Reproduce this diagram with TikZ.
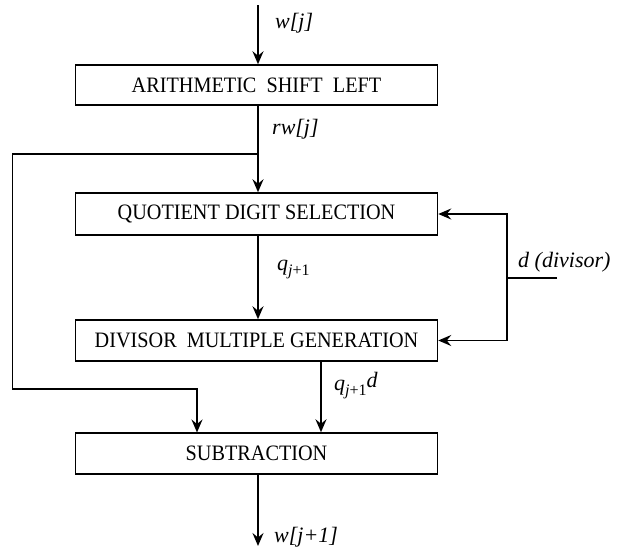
\documentclass[tikz,border=0pt]{standalone}
\usepackage{fontspec}
\setmainfont[FakeStretch=0.92]{Liberation Serif}
\newfontfamily\lblfont{Liberation Serif}
\usetikzlibrary{arrows.meta}
\newcommand{\qsub}{\raisebox{-5pt}{\fontsize{16}{16}\selectfont j\upshape+1}}
\tikzset{
  blk/.style={draw, line width=1.5pt, minimum width=362pt, minimum height=41pt, inner sep=0pt,
    font=\fontsize{22}{26}\selectfont},
  arr/.style={line width=1.8pt, -{Stealth[length=13pt,width=11pt,inset=4.5pt]}},
  ln/.style={line width=1.8pt},
  lbl/.style={anchor=west, inner sep=0pt, font=\lblfont\itshape\fontsize{22}{26}\selectfont}
}
\begin{document}
\begin{tikzpicture}[x=1pt,y=-1pt]
\useasboundingbox (0,0) rectangle (620,554);
\node[blk, minimum height=40pt] (b1) at (256.5,85) {ARITHMETIC~ SHIFT~ LEFT};
\node[blk, minimum height=42pt] (b2) at (256.5,214) {QUOTIENT DIGIT SELECTION};
\node[blk] (b3) at (256.5,340.5) {DIVISOR~ MULTIPLE GENERATION};
\node[blk] (b4) at (256.5,453.5) {SUBTRACTION};
\coordinate (top) at (258,5);
\coordinate (split) at (258,154);
\coordinate (bot) at (258,546);
\coordinate (dend) at (557,278);
\coordinate (dj) at (507,278);
\coordinate (lb) at (12.5,389);
\coordinate (lt) at (12.5,154);
\draw[arr] (top) -- (top |- b1.north);
\draw[arr] (b1.south -| top) -- (b2.north -| top);
\draw[arr] (split) -- (lt) -- (lb) -- ++(184.5,0) -- ++(0,43.5);
\draw[arr] (b2.south -| top) -- (b3.north -| top);
\draw[arr] (321,0 |- b3.south) -- (321,0 |- b4.north);
\draw[arr] (b4.south -| top) -- (bot);
\draw[ln] (dend) -- (dj);
\draw[arr] (dj) |- (b2.east);
\draw[arr] (dj) |- (b3.east);
\node[lbl] (lw) at (275,23) {w[j]};
\node[lbl] (lrw) at (272,129) {rw[j]};
\node[lbl] (lq) at (277,270) {q\qsub};
\node[lbl] (lqd) at (334,386) {q\qsub\raisebox{3pt}{d}};
\node[lbl] (ld) at (518,262) {d (divisor)};
\node[lbl] (lw1) at (274,537) {w[j+1]};
\end{tikzpicture}
\end{document}
